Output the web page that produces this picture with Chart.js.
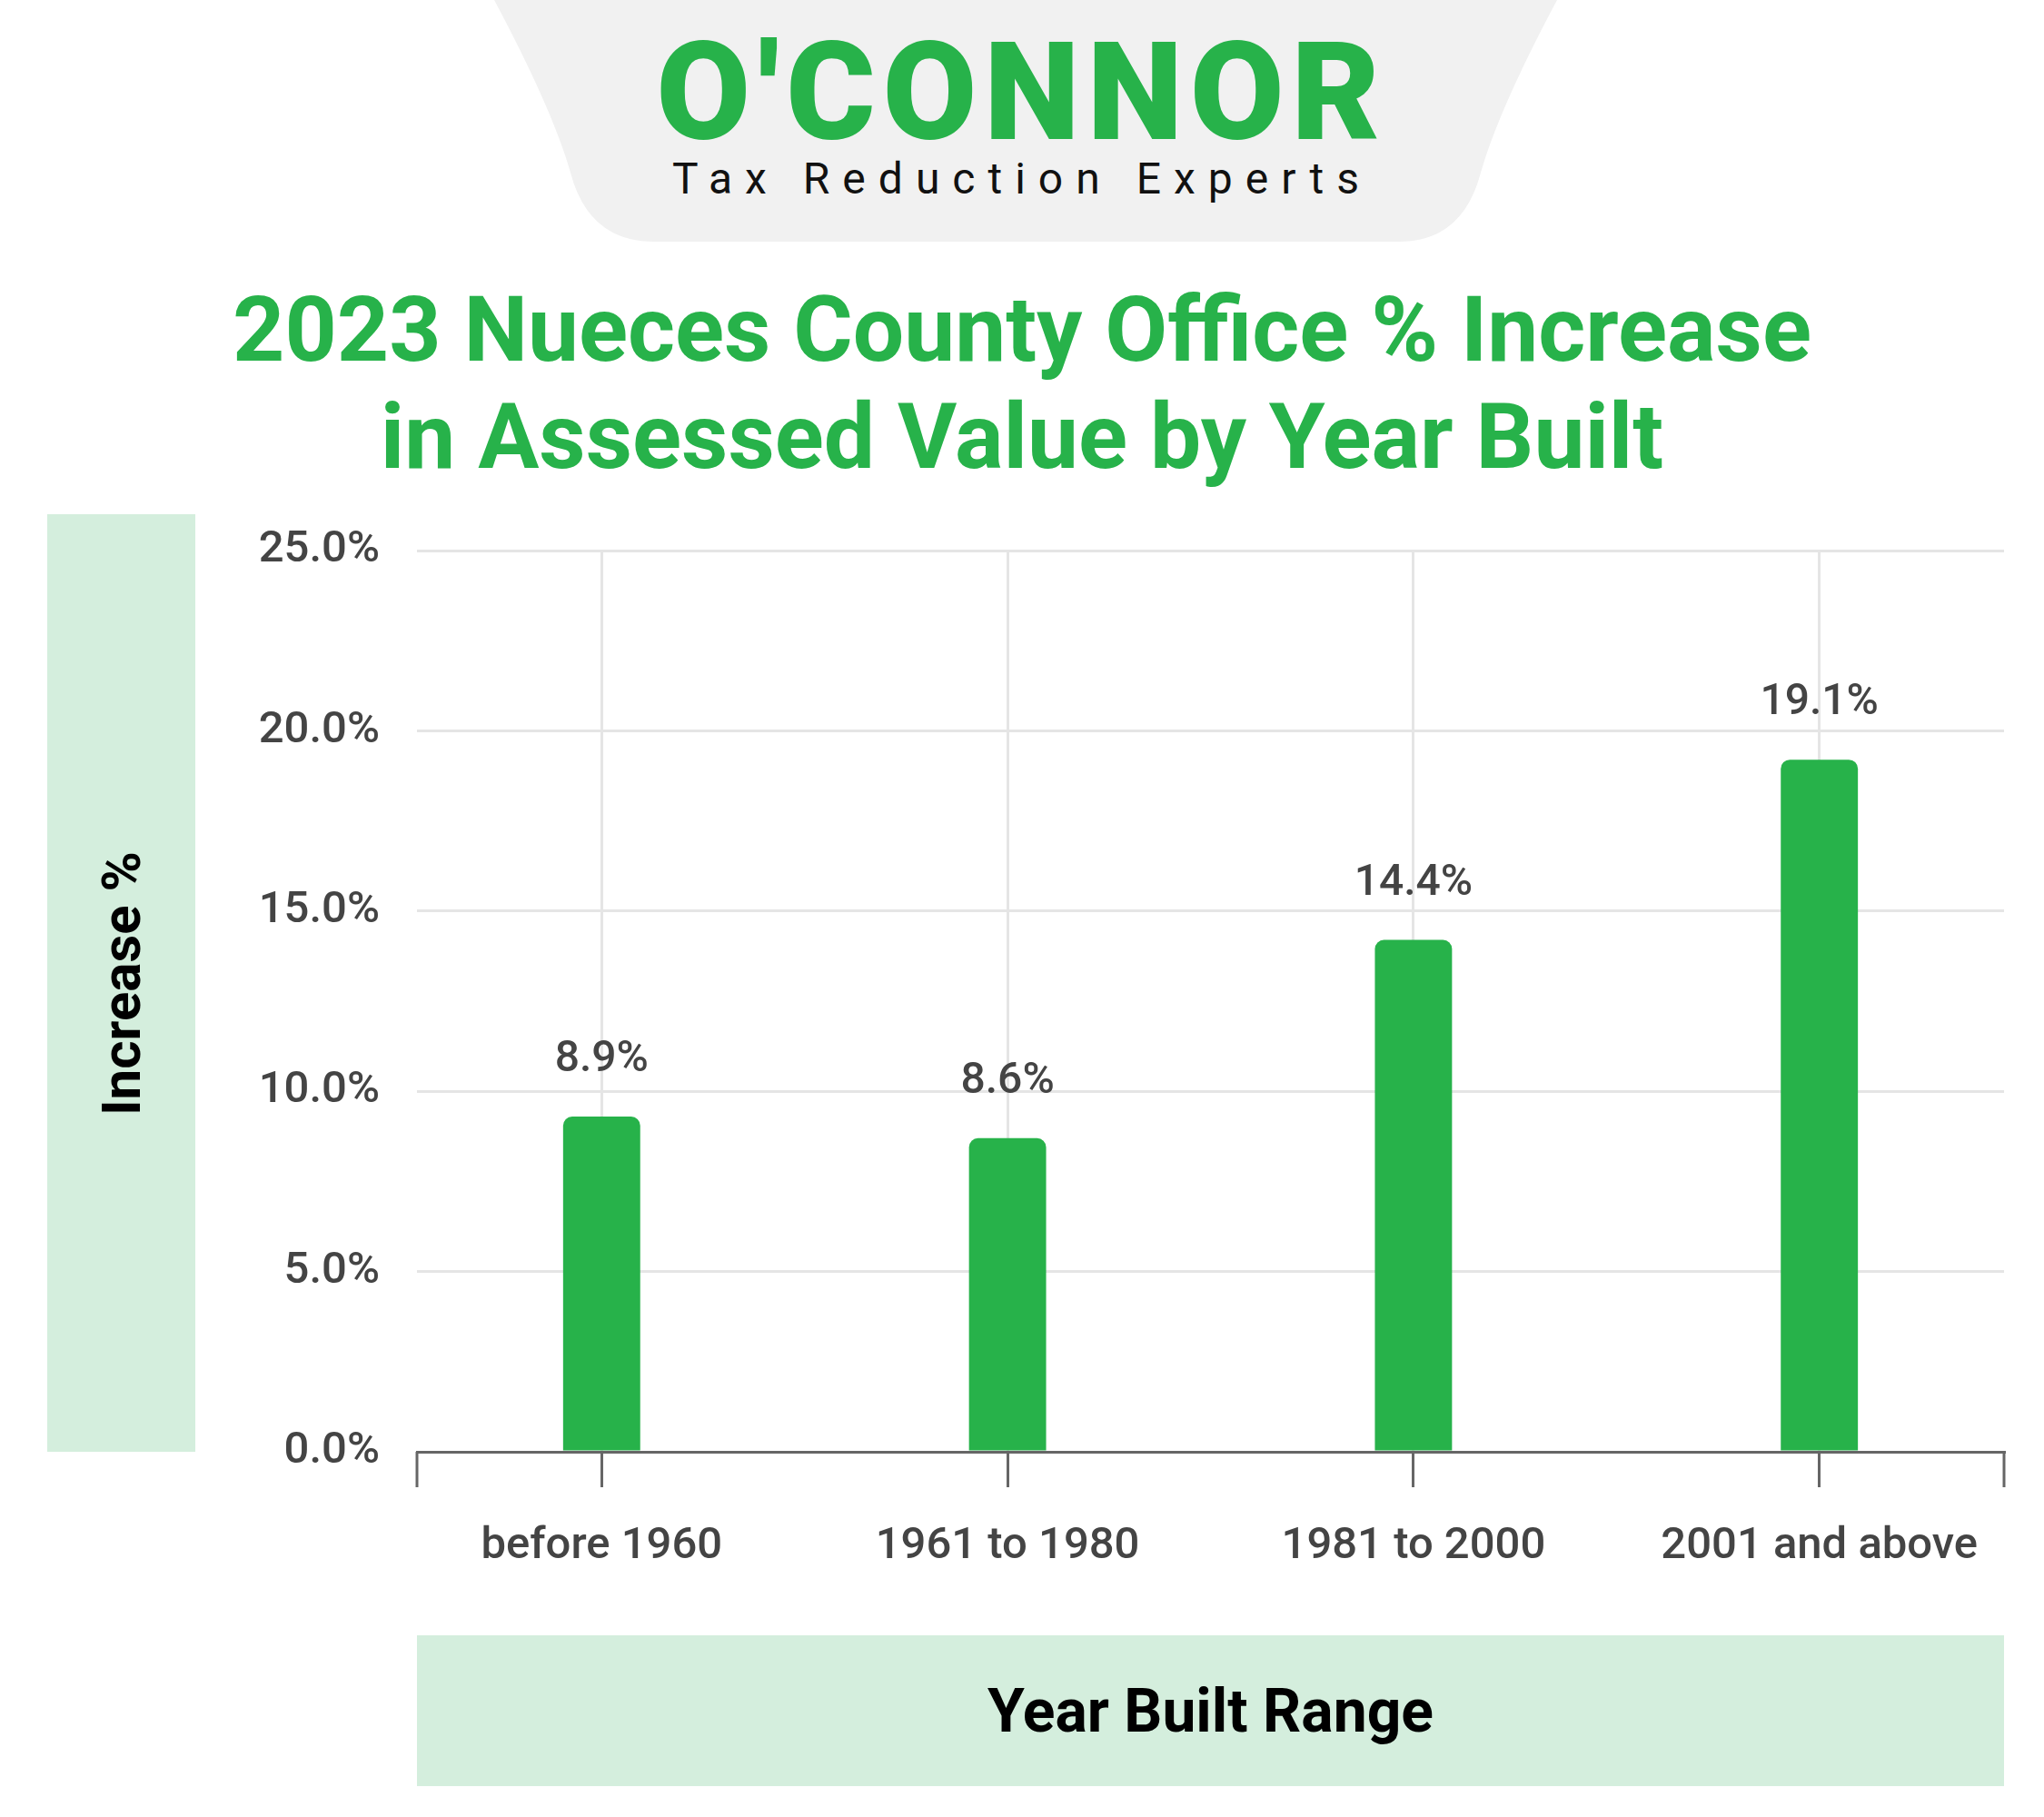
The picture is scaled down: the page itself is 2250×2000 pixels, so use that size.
<!DOCTYPE html>
<html>
<head>
<meta charset="utf-8">
<script src="https://cdn.jsdelivr.net/npm/chart.js@4"></script>
<style>
  body { margin: 0; background: #fff; font-family: Roboto, sans-serif; }
  #page { position: relative; width: 2250px; height: 2000px; overflow: hidden; }
  .box { position: absolute; background: #d4eedd; }
  #logo { position: absolute; left: 0; top: 0; }
  #brand { position: absolute; left: 0; width: 2250px; top: 14px; text-align: center;
           font: 900 150px Roboto, sans-serif; color: #27b24a; letter-spacing: 8px; }
  #tag { position: absolute; left: 0; width: 2250px; top: 168px; text-align: center;
         font: 400 48px Roboto, sans-serif; color: #111; letter-spacing: 14px; }
  #title { position: absolute; left: 0; width: 2250px; top: 304px; text-align: center;
           font: 700 100px/118px Roboto, sans-serif; color: #27b24a; }
  #ylab { position: absolute; left: 52px; top: 566px; width: 163px; height: 1032px;
          display: flex; align-items: center; justify-content: center; }
  #ylab span { transform: rotate(-90deg); font: 700 60px Roboto, sans-serif; color: #000; white-space: nowrap; }
  #xlab { position: absolute; left: 459px; top: 1800px; width: 1747px; height: 166px;
          display: flex; align-items: center; justify-content: center; font: 700 66px Roboto, sans-serif; color: #000; }
  canvas { position: absolute; left: 0; top: 0; }
</style>
</head>
<body>
<div id="page">
  <svg id="logo" width="2250" height="280">
    <path d="M544 0 L1714 0 Q1650 120 1630 190 Q1610 266 1540 266 L720 266 Q648 266 628 190 Q608 120 544 0 Z" fill="#f1f1f1"/>
  </svg>
  <div id="brand">O'CONNOR</div>
  <div id="tag">Tax Reduction Experts</div>
  <div id="title">2023 Nueces County Office % Increase<br>in Assessed Value by Year Built</div>
  <div class="box" style="left:52px;top:566px;width:163px;height:1032px"></div>
  <div class="box" style="left:459px;top:1800px;width:1747px;height:166px"></div>
  <div id="ylab"><span>Increase %</span></div>
  <div id="xlab">Year Built Range</div>
  <canvas id="c" width="2250" height="2000"></canvas>
</div>
<script>
const categories = ['before 1960', '1961 to 1980', '1981 to 2000', '2001 and above'];
const barValues = [9.3, 8.7, 14.2, 19.2];
const valueLabels = ['8.9%', '8.6%', '14.4%', '19.1%'];
const green = '#27b24a';

// value labels above bars + edge tick marks
const extras = {
  id: 'extras',
  afterDatasetsDraw(chart) {
    const ctx = chart.ctx;
    const meta = chart.getDatasetMeta(0);
    ctx.save();
    ctx.fillStyle = '#444';
    ctx.font = '500 48px Roboto';
    ctx.textAlign = 'center';
    ctx.textBaseline = 'middle';
    meta.data.forEach((bar, i) => ctx.fillText(valueLabels[i], bar.x, bar.y - 62));
    const a = chart.chartArea;
    ctx.strokeStyle = '#666';
    ctx.lineWidth = 3;
    [a.left, a.right].forEach(x => {
      ctx.beginPath(); ctx.moveTo(x, a.bottom); ctx.lineTo(x, a.bottom + 39); ctx.stroke();
    });
    ctx.restore();
  }
};

new Chart(document.getElementById('c'), {
  type: 'bar',
  data: {
    datasets: [{ data: barValues.map((v, i) => ({ x: i, y: v })), backgroundColor: green,
                 borderRadius: 10, borderSkipped: 'bottom', barPercentage: 0.19, categoryPercentage: 1 }]
  },
  options: {
    responsive: false,
    devicePixelRatio: 1,
    animation: false,
    layout: { padding: { top: 606, right: 44, left: 0, bottom: 0 } },
    plugins: { legend: { display: false }, tooltip: { enabled: false } },
    scales: {
      x: {
        type: 'linear', min: -0.455, max: 3.455, offset: false,
        grid: { offset: false, color: '#e5e5e5', lineWidth: 3, tickLength: 39, tickColor: '#666' },
        border: { color: '#666', width: 3 },
        ticks: { stepSize: 1, includeBounds: false, color: '#444', font: { family: 'Roboto', size: 49, weight: 500 },
                 padding: 36, callback: v => categories[v] },
        afterFit(s) { s.height = 402; }
      },
      y: {
        min: 0, max: 25,
        grid: { color: '#e5e5e5', lineWidth: 3, drawTicks: false },
        border: { display: false },
        ticks: { stepSize: 5, color: '#444', padding: 41, font: { family: 'Roboto', size: 49, weight: 500 },
                 callback: v => v.toFixed(1) + '%' },
        afterFit(s) { s.width = 459; }
      }
    }
  },
  plugins: [extras]
});
</script>
</body>
</html>
